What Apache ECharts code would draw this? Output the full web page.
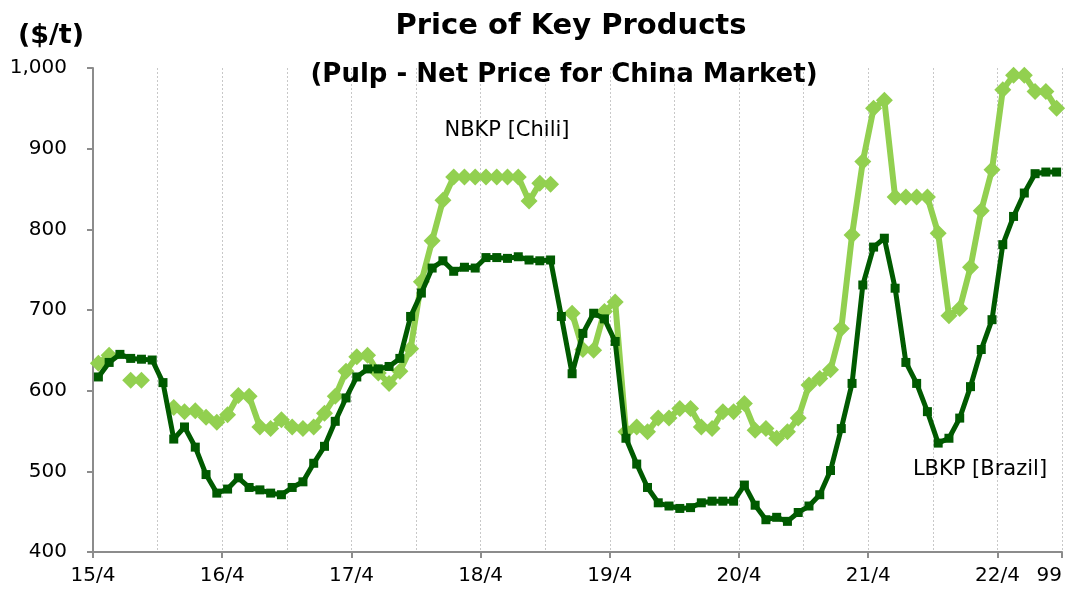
<!DOCTYPE html>
<html>
<head>
<meta charset="utf-8">
<title>Price of Key Products</title>
<script src="https://cdn.jsdelivr.net/npm/echarts@6/dist/echarts.min.js"></script>
<style>
    html, body { margin: 0; padding: 0; background: #fff; }
    #chart { width: 1066px; height: 592px; }
</style>
</head>
<body>
<div id="chart"></div>
<script>
// Monthly prices, 15/4 .. 22/9 (90 months)
const lbkpBrazil = [
    617, 635, 645, 640, 639, 638, 610, 540, 555, 530, 496, 473,
    478, 492, 480, 477, 473, 471, 480, 487, 510, 531, 562, 591,
    617, 627, 627, 630, 640, 692, 721, 752, 761, 748, 753, 752,
    765, 765, 764, 766, 762, 761, 762, 692, 621, 671, 696, 689,
    661, 541, 509, 480, 461, 457, 454, 455, 461, 463, 463, 463,
    483, 458, 440, 443, 438, 449, 457, 471, 501, 553, 609, 731,
    778, 789, 727, 635, 609, 574, 535, 541, 566, 605, 651, 688,
    781, 816, 845, 869, 871, 871
];
const nbkpChili = [
    634, 644, null, 613, 613, null, null, 579, 574, 575, 567, 561,
    570, 594, 593, 555, 553, 564, 555, 553, 555, 572, 593, 624,
    642, 644, 622, 609, 624, 652, 735, 786, 836, 865, 865, 865,
    865, 865, 865, 865, 835, 857, 856, null, 696, 651, 650, 698,
    710, 549, 555, 549, 566, 566, 578, 578, 555, 553, 574, 574,
    584, 551, 553, 541, 549, 566, 607, 615, 626, 677, 793, 884,
    950, 960, 840, 840, 840, 840, 795, 693, 702, 753, 823, 874,
    973, 991, 991, 971, 971, 950
];
const startYear = 15;
const monthCount = 90;
const endLabel = '99';

const FONT = '"DejaVu Sans", Verdana, sans-serif';

function toPoints(values) {
    // place each month in the middle of its slot
    return values.map((v, i) => [i + 0.5, v == null ? '-' : v]);
}

function initChart() {
    const chartDom = document.getElementById('chart');
    const myChart = echarts.init(chartDom);

    const option = {
        animation: false,
        backgroundColor: '#fff',
        grid: { left: 93, right: 4, top: 68, bottom: 40 },
        graphic: [
            {
                type: 'text', x: 571, y: 26, z: 10,
                style: { text: 'Price of Key Products', font: 'bold 29px ' + FONT, fill: '#000', align: 'center', verticalAlign: 'middle' }
            },
            {
                type: 'text', x: 564, y: 75, z: 10,
                style: { text: '(Pulp - Net Price for China Market)', font: 'bold 26px ' + FONT, fill: '#000', align: 'center', verticalAlign: 'middle' }
            },
            {
                type: 'text', x: 51, y: 36, z: 10,
                style: { text: '($/t)', font: 'bold 27px ' + FONT, fill: '#000', align: 'center', verticalAlign: 'middle' }
            },
            {
                type: 'text', x: 507, y: 131, z: 10,
                style: { text: 'NBKP [Chili]', font: '21px ' + FONT, fill: '#000', align: 'center', verticalAlign: 'middle' }
            },
            {
                type: 'text', x: 980, y: 470, z: 10,
                style: { text: 'LBKP [Brazil]', font: '21px ' + FONT, fill: '#000', align: 'center', verticalAlign: 'middle' }
            }
        ],
        xAxis: [
            {
                // half-year grid lines
                type: 'value', min: 0, max: monthCount, interval: 6,
                axisLine: { show: true, lineStyle: { color: '#8c8c8c', width: 2 } },
                axisTick: { show: false },
                axisLabel: { show: false },
                splitLine: { show: true, lineStyle: { color: '#c8c8c8', type: [2, 2], width: 1 } }
            },
            {
                // yearly ticks and labels
                type: 'value', position: 'bottom', min: 0, max: monthCount, interval: 12,
                axisLine: { show: false },
                axisTick: { show: true, length: 6, lineStyle: { color: '#8c8c8c', width: 2 } },
                splitLine: { show: false },
                axisLabel: {
                    margin: 14,
                    color: '#000',
                    fontFamily: FONT,
                    fontSize: 20,
                    alignMaxLabel: 'right',
                    formatter: function(v) {
                        if (v === monthCount) return endLabel;
                        if (v % 12 === 0) return (startYear + v / 12) + '/4';
                        return '';
                    }
                }
            }
        ],
        yAxis: {
            type: 'value', min: 400, max: 1000, interval: 100,
            axisLine: { show: true, lineStyle: { color: '#8c8c8c', width: 2 } },
            axisTick: { show: true, length: 6, lineStyle: { color: '#8c8c8c', width: 2 } },
            splitLine: { show: false },
            axisLabel: {
                margin: 26,
                color: '#000',
                fontFamily: FONT,
                fontSize: 20,
                formatter: function(v) { return v.toLocaleString('en-US'); }
            }
        },
        series: [
            {
                name: 'NBKP [Chili]',
                type: 'line',
                xAxisIndex: 0,
                data: toPoints(nbkpChili),
                connectNulls: false,
                symbol: 'diamond',
                symbolSize: 17,
                showAllSymbol: true,
                lineStyle: { color: '#92d050', width: 6 },
                itemStyle: { color: '#92d050' },
                z: 2
            },
            {
                name: 'LBKP [Brazil]',
                type: 'line',
                xAxisIndex: 0,
                data: toPoints(lbkpBrazil),
                symbol: 'rect',
                symbolSize: 9,
                showAllSymbol: true,
                lineStyle: { color: '#005a00', width: 5 },
                itemStyle: { color: '#005a00' },
                z: 3
            }
        ]
    };

    myChart.setOption(option);
}

document.addEventListener('DOMContentLoaded', initChart);
</script>
</body>
</html>
